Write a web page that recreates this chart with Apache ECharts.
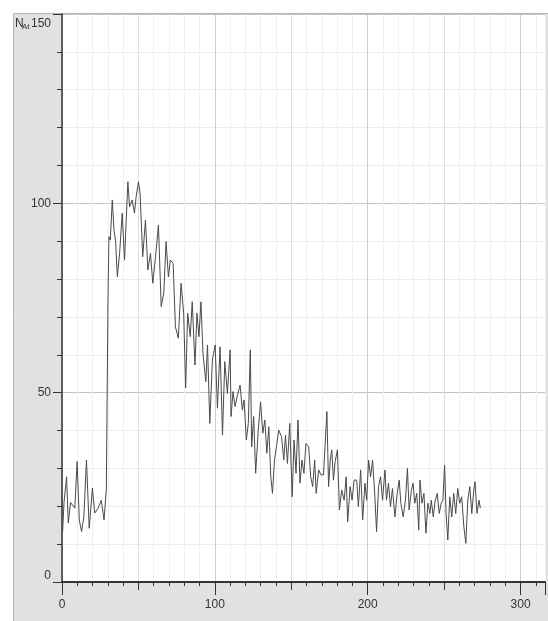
<!DOCTYPE html>
<html><head><meta charset="utf-8">
<script src="https://cdn.jsdelivr.net/npm/echarts@6/dist/echarts.min.js"></script>
<style>html,body{margin:0;padding:0;background:#fff}#c{width:548px;height:621px}</style>
</head><body><div id="c"></div>
<script>
const xValues = [
0.4,1.3,3.0,4.1,5.6,8.4,9.9,11.3,12.8,14.3,16.0,17.8,19.9,21.4,23.6,25.7,27.5,29.0,30.1,30.7,31.6,32.9,34.0,35.1,36.2,37.7,39.4,40.9,43.1,44.2,45.9,47.4,48.5,50.0,51.1,52.8,54.6,
56.2,57.9,59.4,61.2,63.1,64.9,66.6,68.1,69.6,70.9,72.7,74.2,76.1,77.9,79.6,80.9,82.2,83.9,85.2,86.5,87.0,88.3,89.6,90.9,92.2,94.1,95.2,96.7,98.4,100.2,101.7,103.4,105.0,106.5,108.2,110.0,
110.6,111.9,113.2,114.8,116.5,118.0,119.1,120.6,121.9,123.2,124.1,125.4,126.7,128.4,129.9,131.4,132.7,134.0,135.3,136.6,137.7,139.0,140.3,141.8,143.6,145.1,146.2,147.5,149.0,150.6,151.8,153.1,154.4,155.7,157.0,158.3,159.6,161.4,162.7,164.0,165.3,
166.3,167.9,169.4,171.1,173.3,174.4,175.5,176.5,177.6,178.7,180.2,181.5,183.0,184.6,185.9,186.9,188.5,189.8,191.1,192.8,193.9,195.4,196.7,198.2,199.3,200.6,201.9,203.2,204.7,205.8,207.1,208.4,209.7,211.3,212.3,213.6,214.9,216.2,217.8,219.3,220.6,
221.7,223.2,224.7,226.0,227.1,228.6,229.7,230.8,232.1,233.4,234.2,235.5,236.8,238.1,239.4,240.7,241.6,242.9,244.2,245.5,246.8,248.1,249.2,250.3,251.3,252.4,253.7,255.0,256.3,257.6,258.9,260.2,261.5,262.9,264.2,265.5,266.8,268.1,269.4,270.2,271.5,272.8,273.7
];
const yValues = [
13.3,20.9,27.8,15.6,21.0,19.5,31.8,16.4,13.3,17.2,32.2,14.2,24.8,18.2,19.5,21.6,16.4,24.3,75.3,91.2,90.3,100.9,93.0,89.9,80.6,86.8,97.4,85.0,105.7,99.1,100.9,97.4,101.7,105.7,102.7,85.9,95.6,
82.4,86.8,78.9,85.9,94.3,72.7,76.3,89.9,80.6,85.0,84.2,67.4,64.4,78.9,71.0,51.2,71.0,64.8,74.0,74.0,57.3,71.0,64.8,74.0,60.5,52.9,62.6,41.9,58.6,62.6,45.9,62.1,38.8,58.2,49.8,61.3,
43.7,50.3,46.3,49.4,52.0,45.4,48.1,37.5,41.9,61.3,35.7,43.7,28.7,40.1,47.6,39.3,42.8,34.0,41.0,27.8,23.4,32.2,35.7,40.1,38.4,32.2,38.8,31.3,41.9,22.5,37.5,28.7,42.8,26.1,32.2,28.7,36.6,35.7,27.8,25.2,32.2,
23.4,29.6,28.3,28.3,45.0,25.2,32.2,34.9,26.9,31.8,34.9,19.0,24.3,21.6,27.8,15.9,25.2,21.6,26.9,26.9,19.9,29.6,16.4,26.1,21.6,32.2,27.8,32.2,22.5,13.3,25.2,27.8,21.6,29.6,21.6,26.1,19.9,24.7,17.2,23.4,26.9,
20.8,17.2,21.6,30.0,19.0,24.3,26.1,20.8,23.4,13.7,26.9,20.8,23.4,12.9,20.8,18.1,21.6,17.2,21.6,23.4,18.1,20.8,21.6,30.9,18.1,11.1,22.5,17.2,23.4,18.1,24.7,20.8,22.5,14.6,10.2,21.6,25.2,18.1,24.3,26.5,18.1,21.6,19.5
];
const xTickLabels = [0, 100, 200, 300];
const yTickLabels = [0, 50, 100, 150];
const yAxisName = 'N';
const yAxisSub = 'At';

const FONT = "'Liberation Sans Narrow','Arial Narrow','Liberation Sans',sans-serif";
const chart = echarts.init(document.getElementById('c'), null, {renderer: 'canvas'});
const vColors = ['#cdcdcd','#f0f0f0','#f0f0f0','#f0f0f0','#f0f0f0','#dedede','#f0f0f0','#f0f0f0','#f0f0f0','#f0f0f0'];
const hColors = ['#c4c4c4','#ececec','#ececec','#ececec','#ececec'];
const tickColor = '#333';
const yMaxLabel = yTickLabels[yTickLabels.length - 1];
const option = {
  animation: false,
  backgroundColor: '#fff',
  graphic: [
    {type: 'rect', z: -100, shape: {x: 13.5, y: 13.5, width: 540, height: 615},
     style: {fill: '#e1e1e1', stroke: '#b4b4b4', lineWidth: 1}},
    {type: 'text', left: 15, top: 18, z: 10, style: {text: yAxisName, font: '12px ' + FONT, fill: '#333'}},
    {type: 'text', left: 22, top: 23, z: 10, style: {text: yAxisSub, font: '8px ' + FONT, fill: '#333'}}
  ],
  grid: {left: 62, right: 0, top: 14, bottom: 39, show: true, backgroundColor: '#fff', borderWidth: 0},
  xAxis: [
    {type: 'value', min: 0, max: 316, interval: 10,
     axisLine: {show: true, onZero: false, lineStyle: {color: '#333', width: 2}},
     axisTick: {show: true, length: 4, lineStyle: {color: tickColor, width: 1}},
     axisLabel: {show: false},
     splitLine: {show: true, lineStyle: {color: vColors, width: 1}}},
    {type: 'value', min: 0, max: 316, interval: 50, position: 'bottom',
     axisLine: {show: false, onZero: false},
     axisTick: {show: true, length: 8, lineStyle: {color: tickColor, width: 1}},
     axisLabel: {show: false}, splitLine: {show: false}},
    {type: 'value', min: 0, max: 316, interval: 100, position: 'bottom',
     axisLine: {show: false, onZero: false},
     axisTick: {show: true, length: 13, lineStyle: {color: tickColor, width: 1}},
     axisLabel: {show: true, margin: 17, fontSize: 12, fontFamily: FONT, color: '#333',
       formatter: v => xTickLabels.indexOf(v) >= 0 ? String(v) : ''},
     splitLine: {show: false}}
  ],
  yAxis: [
    {type: 'value', min: 0, max: 150, interval: 10, position: 'left',
     axisLine: {show: true, onZero: false, lineStyle: {color: '#333', width: 1.5}},
     axisTick: {show: true, length: 5, lineStyle: {color: tickColor, width: 1}},
     axisLabel: {show: false},
     splitLine: {show: true, lineStyle: {color: hColors, width: 1}}},
    {type: 'value', min: 0, max: 150, interval: 50, position: 'left',
     axisLine: {show: false, onZero: false},
     axisTick: {show: true, length: 9, lineStyle: {color: tickColor, width: 1}},
     axisLabel: {show: true, margin: 11, fontSize: 12, fontFamily: FONT, color: '#333',
       verticalAlignMinLabel: 'bottom', verticalAlignMaxLabel: 'top',
       formatter: v => v === yMaxLabel ? '{t|' + v + '}' : (yTickLabels.indexOf(v) >= 0 ? String(v) : ''),
       rich: {t: {fontSize: 12, fontFamily: FONT, color: '#333', padding: [4, 0, 0, 0]}}},
     splitLine: {show: false}}
  ],
  series: [{
    type: 'line', xAxisIndex: 0, yAxisIndex: 0,
    data: xValues.map((x, i) => [x, yValues[i]]),
    showSymbol: false, symbol: 'none',
    lineStyle: {color: '#4a4a4a', width: 1}
  }]
};
chart.setOption(option);
</script>
</body></html>
